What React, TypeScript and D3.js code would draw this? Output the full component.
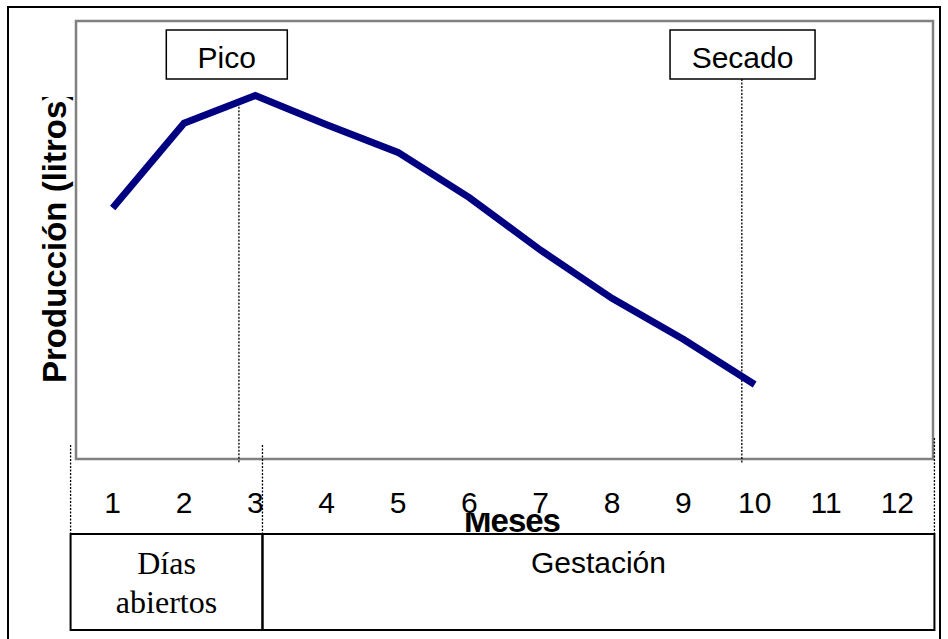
import React from 'react'
import * as d3 from 'd3'

// months on the x axis, production per month (litres)
const months = [1, 2, 3, 4, 5, 6, 7, 8, 9, 10, 11, 12]
const production = [17.2, 23.0, 24.9, 22.9, 21.0, 17.9, 14.3, 11.0, 8.2, 5.1]

// event markers (month position) and lactation periods (month ranges)
const events = [
    { label: 'Pico', boxAt: 2.6, lineAt: 2.77, lineFrom: 24.6 },
    { label: 'Secado', boxAt: 9.83, lineAt: 9.82, lineFrom: null },
]
const periods = [
    { label: ['Días', 'abiertos'], from: 0.41, to: 3.1, serif: true },
    { label: ['Gestación'], from: 3.1, to: 12.52, serif: false },
]

const W = 948
const H = 639
const plot = { left: 77, right: 933, top: 21, bottom: 459 }
const sans = '"Liberation Sans", Arial, sans-serif'
const serif = '"Liberation Serif", "Times New Roman", serif'

export default function App() {
    const x = d3.scaleLinear().domain([0.5, 12.5]).range([plot.left, plot.right])
    const y = d3.scaleLinear().domain([0, 30]).range([plot.bottom, plot.top])

    const line = d3.line<number>()
        .x((_d, i) => x(months[i]))
        .y(d => y(d))

    const boxTop = 30, boxH = 49
    const boxW = { Pico: 121, Secado: 145 }
    const periodTop = 534, periodBottom = 630

    return (
        <svg width={W} height={H} style={{ position: 'absolute', left: 0, top: 0, background: '#fff' }}>
            <defs>
                <clipPath id="ylab"><rect x={0} y={97} width={80} height={400} /></clipPath>
                <clipPath id="xlab"><rect x={400} y={513} width={250} height={25} /></clipPath>
            </defs>
            <rect x={8} y={7} width={932} height={700} fill="none" stroke="#000" strokeWidth={2} />
            <rect x={plot.left - 1} y={plot.top} width={plot.right - plot.left + 1} height={plot.bottom - plot.top}
                fill="#fff" stroke="#808080" strokeWidth={2.5} />

            {/* event dotted lines */}
            {events.map(e => (
                <line key={e.label + 'l'} x1={x(e.lineAt)} x2={x(e.lineAt)}
                    y1={e.lineFrom == null ? boxTop + boxH : y(e.lineFrom)} y2={plot.bottom + 4}
                    stroke="#000" strokeWidth={1.3} strokeDasharray="2 1.5" />
            ))}

            <path d={line(production) || ''} fill="none" stroke="#000080" strokeWidth={7} strokeLinejoin="miter" />

            {/* event boxes */}
            {events.map(e => (
                <g key={e.label}>
                    <rect x={x(e.boxAt) - boxW[e.label] / 2} y={boxTop} width={boxW[e.label]} height={boxH}
                        fill="#fff" stroke="#000" strokeWidth={1.5} />
                    <text x={x(e.boxAt)} y={boxTop + 38} textAnchor="middle" fontFamily={sans} fontSize={30}>{e.label}</text>
                </g>
            ))}

            {/* y title */}
            <g clipPath="url(#ylab)">
                <text transform={`translate(66,383) rotate(-90)`} fontFamily={sans} fontWeight="bold" fontSize={33}>Producción (litros)</text>
            </g>

            {/* month ticks */}
            {months.map(m => (
                <text key={m} x={x(m)} y={513} textAnchor="middle" fontFamily={sans} fontSize={30}>{m}</text>
            ))}
            <g clipPath="url(#xlab)">
                <text x={512} y={532} textAnchor="middle" fontFamily={sans} fontWeight="bold" fontSize={33} letterSpacing={-1}>Meses</text>
            </g>

            {/* period boundaries */}
            {[periods[0].from, periods[0].to, periods[1].to].map((m, i) => (
                <line key={i} x1={x(m)} x2={x(m)} y1={i === 2 ? 438 : 445} y2={periodTop}
                    stroke="#000" strokeWidth={1.3} strokeDasharray="2 1.5" />
            ))}
            {periods.map(p => {
                const cx = (x(p.from) + x(p.to)) / 2
                return (
                    <g key={p.label[0]}>
                        <rect x={x(p.from)} y={periodTop} width={x(p.to) - x(p.from)} height={periodBottom - periodTop}
                            fill="none" stroke="#000" strokeWidth={2} />
                        {p.label.map((t, i) => (
                            <text key={t} x={cx} y={p.serif ? 574 + i * 39 : 573} textAnchor="middle"
                                fontFamily={p.serif ? serif : sans} fontSize={p.serif ? 32 : 30}>{t}</text>
                        ))}
                    </g>
                )
            })}
        </svg>
    )
}
